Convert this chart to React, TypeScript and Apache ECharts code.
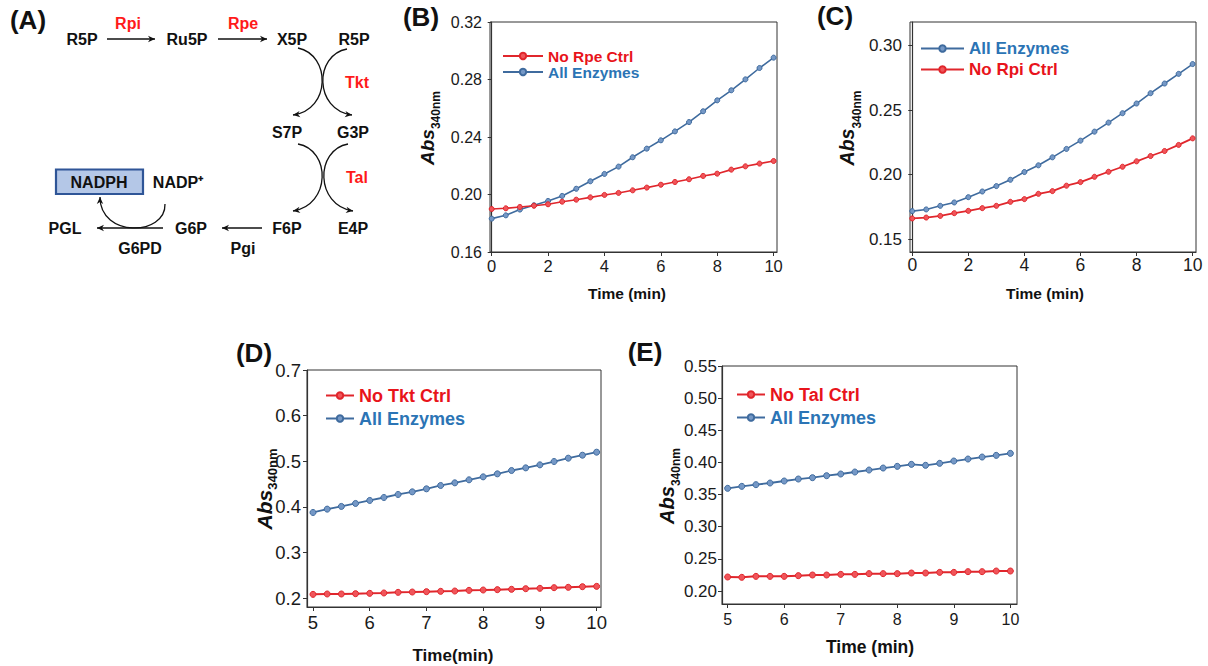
import React, { useEffect, useRef } from 'react';
import * as echarts from 'echarts';

// ---------- data ----------
const timeBC = [0, 0.5, 1, 1.5, 2, 2.5, 3, 3.5, 4, 4.5, 5, 5.5, 6, 6.5, 7, 7.5, 8, 8.5, 9, 9.5, 10];
const timeDE = [5, 5.25, 5.5, 5.75, 6, 6.25, 6.5, 6.75, 7, 7.25, 7.5, 7.75, 8, 8.25, 8.5, 8.75, 9, 9.25, 9.5, 9.75, 10];

const bNoRpe = [0.1899, 0.1904, 0.1913, 0.1922, 0.1932, 0.195, 0.1964, 0.198, 0.1997, 0.2011, 0.2029, 0.2048, 0.2068, 0.2087, 0.2106, 0.2129, 0.2145, 0.2173, 0.2196, 0.2215, 0.2233];
const bAll = [0.1832, 0.1855, 0.1895, 0.1925, 0.1955, 0.199, 0.204, 0.2092, 0.2143, 0.2194, 0.2259, 0.2319, 0.2377, 0.2439, 0.2504, 0.2579, 0.2655, 0.2725, 0.2801, 0.288, 0.2952];

const cAll = [0.1718, 0.1731, 0.1759, 0.1785, 0.1826, 0.187, 0.1912, 0.1961, 0.2021, 0.2073, 0.2135, 0.22, 0.2264, 0.2334, 0.2404, 0.2477, 0.2552, 0.2632, 0.2707, 0.2782, 0.2858];
const cNoRpi = [0.1661, 0.1668, 0.1681, 0.1702, 0.172, 0.1741, 0.1759, 0.179, 0.1811, 0.1852, 0.1873, 0.1915, 0.1943, 0.1984, 0.2023, 0.2062, 0.2104, 0.2145, 0.2184, 0.2231, 0.2282];

const dNoTkt = [0.2087, 0.2095, 0.2095, 0.2102, 0.2109, 0.2117, 0.2131, 0.2138, 0.2146, 0.2153, 0.216, 0.2175, 0.2182, 0.219, 0.2197, 0.2211, 0.2219, 0.2233, 0.2241, 0.2255, 0.2262];
const dAll = [0.388, 0.3953, 0.4012, 0.4077, 0.4143, 0.4208, 0.4274, 0.4332, 0.4398, 0.4471, 0.4529, 0.4595, 0.466, 0.4726, 0.4799, 0.4857, 0.4923, 0.4996, 0.5069, 0.5134, 0.52];

const eNoTal = [0.2218, 0.2213, 0.2228, 0.2228, 0.2228, 0.2239, 0.2249, 0.2249, 0.2259, 0.2259, 0.227, 0.227, 0.227, 0.228, 0.228, 0.229, 0.229, 0.2301, 0.2301, 0.2311, 0.2311];
const eAll = [0.3597, 0.3628, 0.3654, 0.368, 0.3711, 0.3742, 0.3763, 0.3794, 0.382, 0.3851, 0.3882, 0.3913, 0.3939, 0.397, 0.3955, 0.3986, 0.4022, 0.4053, 0.4084, 0.411, 0.4141];

const xTicksBC = [0, 2, 4, 6, 8, 10];
const xTicksDE = [5, 6, 7, 8, 9, 10];
const yTicksB = [0.16, 0.2, 0.24, 0.28, 0.32];
const yTicksC = [0.15, 0.2, 0.25, 0.3];
const yTicksD = [0.2, 0.3, 0.4, 0.5, 0.6, 0.7];
const yTicksE = [0.2, 0.25, 0.3, 0.35, 0.4, 0.45, 0.5, 0.55];

// ---------- styles ----------
const FONT = '"Liberation Sans", Arial, sans-serif';
const RED = '#e0262c';
const RED_FILL = '#f0555a';
const BLUE = '#3f6b9e';
const BLUE_FILL = '#7598c6';
const RED_TXT = '#e8141b';
const BLUE_TXT = '#2b74b5';
const AXIS = '#333333';
const INK = '#111111';

function arrowHead(tx: number, ty: number, dx: number, dy: number, len = 7, hw = 3.2) {
  const L = Math.hypot(dx, dy);
  const ux = dx / L, uy = dy / L;
  const nx = -uy, ny = ux;
  return {
    type: 'polygon',
    shape: {
      points: [
        [tx, ty],
        [tx - len * ux + hw * nx, ty - len * uy + hw * ny],
        [tx - len * ux * 0.7, ty - len * uy * 0.7],
        [tx - len * ux - hw * nx, ty - len * uy - hw * ny],
      ],
    },
    style: { fill: INK },
    silent: true,
  };
}

function straightArrow(x1: number, y1: number, x2: number, y2: number) {
  return [
    { type: 'line', shape: { x1, y1, x2, y2 }, style: { stroke: INK, lineWidth: 1.3 }, silent: true },
    arrowHead(x2, y2, x2 - x1, y2 - y1),
  ];
}

function curveArrow(x1: number, y1: number, c1x: number, c1y: number, c2x: number, c2y: number, x2: number, y2: number) {
  return [
    {
      type: 'bezierCurve',
      shape: { x1, y1, cpx1: c1x, cpy1: c1y, cpx2: c2x, cpy2: c2y, x2, y2 },
      style: { stroke: INK, lineWidth: 1.3, fill: 'none' },
      silent: true,
    },
    arrowHead(x2, y2, x2 - c2x, y2 - c2y),
  ];
}

function label(text: string, x: number, y: number, color = INK, size = 16, weight = 'bold') {
  return {
    type: 'text',
    x,
    y,
    silent: true,
    style: {
      text,
      fill: color,
      font: `${weight} ${size}px ${FONT}`,
      align: 'center',
      verticalAlign: 'middle',
      textAlign: 'center',
      textVerticalAlign: 'middle',
    },
  };
}

// rotated y title "Abs" with subscript "340nm"; x = centre of the line box
function absTitle(x: number, y: number, size: number, drop: number) {
  const t = Math.round(size * 0.62);
  const H = 2 * (drop + (t + 2) / 2 - 0.35 * t + 0.35 * size);
  return {
    type: 'text',
    x,
    y,
    rotation: Math.PI / 2,
    silent: true,
    style: {
      text: '{a|Abs}{b|340nm}',
      align: 'center',
      verticalAlign: 'middle',
      rich: {
        a: { fontSize: size, fontWeight: 'bold', fontStyle: 'italic', fontFamily: FONT, fill: INK, lineHeight: H },
        b: { fontSize: t, fontWeight: 'bold', fontFamily: FONT, fill: INK, verticalAlign: 'bottom', lineHeight: t + 2 },
      },
    },
  };
}

type Panel = {
  grid: { left: number; top: number; width: number; height: number };
  xMin: number; xMax: number; xTicks: number[]; xFont: number; xMargin: number;
  yMin: number; yMax: number; yTicks: number[]; yFont: number; yMargin: number; yDec: number;
};

const panels: Panel[] = [
  { grid: { left: 490, top: 22, width: 287, height: 230 }, xMin: -0.06, xMax: 10.12, xTicks: xTicksBC, xFont: 16.5, xMargin: 5,
    yMin: 0.16, yMax: 0.32, yTicks: yTicksB, yFont: 16, yMargin: 8, yDec: 2 },
  { grid: { left: 910, top: 22, width: 286, height: 230 }, xMin: -0.08, xMax: 10.12, xTicks: xTicksBC, xFont: 17.5, xMargin: 4,
    yMin: 0.1401, yMax: 0.3184, yTicks: yTicksC, yFont: 17, yMargin: 8, yDec: 2 },
  { grid: { left: 307, top: 370, width: 294, height: 237 }, xMin: 4.894, xMax: 10.077, xTicks: xTicksDE, xFont: 18.5, xMargin: 6,
    yMin: 0.181, yMax: 0.7, yTicks: yTicksD, yFont: 18.5, yMargin: 6, yDec: 1 },
  { grid: { left: 722, top: 366, width: 295, height: 238 }, xMin: 4.9, xMax: 10.117, xTicks: xTicksDE, xFont: 16, xMargin: 7,
    yMin: 0.1798, yMax: 0.55, yTicks: yTicksE, yFont: 17, yMargin: 5, yDec: 2 },
];

function mkSeries(name: string, xs: number[], ys: number[], idx: number, color: string, fill: string, lw: number, size: number) {
  return {
    type: 'line',
    name,
    xAxisIndex: idx,
    yAxisIndex: idx,
    data: xs.map((x, i) => [x, ys[i]]),
    symbol: 'circle',
    symbolSize: size,
    showSymbol: true,
    lineStyle: { color, width: lw },
    itemStyle: { color: fill, borderColor: color, borderWidth: 1 },
    emphasis: { disabled: true },
    z: color === RED ? 3 : 2,
  };
}

function mkLegend(left: number, top: number, lh: number, gap: number, fs: number, iw: number, items: { name: string; color: string }[]) {
  return {
    left,
    top,
    orient: 'vertical',
    padding: 0,
    itemGap: gap,
    itemWidth: iw,
    itemHeight: 8,
    selectedMode: false,
    data: items.map((it) => ({ name: it.name, textStyle: { color: it.color } })),
    textStyle: { fontSize: fs, fontWeight: 'bold', fontFamily: FONT, lineHeight: lh },
  };
}

export default function App() {
  const ref = useRef<HTMLDivElement>(null);

  useEffect(() => {
    if (!ref.current) return;
    const chart = echarts.init(ref.current, undefined, { renderer: 'svg' });

    const grids = panels.map((p) => ({
      ...p.grid,
      show: true,
      borderColor: AXIS,
      borderWidth: 1,
      backgroundColor: 'transparent',
      containLabel: false,
    }));

    const xAxes = panels.map((p, i) => ({
      type: 'value',
      gridIndex: i,
      min: p.xMin,
      max: p.xMax,
      splitLine: { show: false },
      axisLine: { show: true, lineStyle: { color: AXIS, width: 1.2 } },
      axisTick: { show: true, inside: false, length: 4, lineStyle: { color: AXIS }, customValues: p.xTicks },
      axisLabel: {
        customValues: p.xTicks,
        fontSize: p.xFont,
        fontFamily: FONT,
        color: '#1a1a1a',
        margin: p.xMargin,
        formatter: (v: number) => String(Math.round(v)),
      },
    }));

    const yAxes = panels.map((p, i) => ({
      type: 'value',
      gridIndex: i,
      min: p.yMin,
      max: p.yMax,
      splitLine: { show: false },
      axisLine: { show: true, lineStyle: { color: AXIS, width: 1.2 } },
      axisTick: { show: true, inside: false, length: 4, lineStyle: { color: AXIS }, customValues: p.yTicks },
      axisLabel: {
        customValues: p.yTicks,
        fontSize: p.yFont,
        fontFamily: FONT,
        color: '#1a1a1a',
        margin: p.yMargin,
        formatter: (v: number) => v.toFixed(p.yDec),
      },
    }));

    const series = [
      mkSeries('No Rpe Ctrl', timeBC, bNoRpe, 0, RED, RED_FILL, 1.6, 5),
      mkSeries('All Enzymes', timeBC, bAll, 0, BLUE, BLUE_FILL, 1.6, 5),
      mkSeries('All Enzymes', timeBC, cAll, 1, BLUE, BLUE_FILL, 1.6, 5),
      mkSeries('No Rpi Ctrl', timeBC, cNoRpi, 1, RED, RED_FILL, 1.8, 5),
      mkSeries('No Tkt Ctrl', timeDE, dNoTkt, 2, RED, RED_FILL, 2, 6),
      mkSeries('All Enzymes', timeDE, dAll, 2, BLUE, BLUE_FILL, 1.8, 6),
      mkSeries('No Tal Ctrl', timeDE, eNoTal, 3, RED, RED_FILL, 2, 6),
      mkSeries('All Enzymes', timeDE, eAll, 3, BLUE, BLUE_FILL, 1.8, 6),
    ];

    const legends = [
      mkLegend(502, 48, 15, 0, 15.5, 40, [{ name: 'No Rpe Ctrl', color: RED_TXT }, { name: 'All Enzymes', color: BLUE_TXT }]),
      mkLegend(920, 38, 21, 0, 17, 43, [{ name: 'All Enzymes', color: BLUE_TXT }, { name: 'No Rpi Ctrl', color: RED_TXT }]),
      mkLegend(325, 384, 23, 0, 18, 28, [{ name: 'No Tkt Ctrl', color: RED_TXT }, { name: 'All Enzymes', color: BLUE_TXT }]),
      mkLegend(736, 383, 23, 0, 18, 28, [{ name: 'No Tal Ctrl', color: RED_TXT }, { name: 'All Enzymes', color: BLUE_TXT }]),
    ];

    const diagram: any[] = [
      label('R5P', 82, 39),
      label('Rpi', 128, 23, '#ff1a1a'),
      ...straightArrow(107, 39, 155, 39),
      label('Ru5P', 187, 39),
      label('Rpe', 243, 23, '#ff1a1a'),
      ...straightArrow(218, 39, 267, 39),
      label('X5P', 292, 39),
      label('R5P', 354, 39),
      ...curveArrow(298, 48, 331, 55, 331, 110, 293, 115),
      ...curveArrow(347, 49, 314, 55, 314, 110, 352, 115),
      label('Tkt', 357, 82, '#ff1a1a'),
      label('S7P', 287, 132),
      label('G3P', 353, 132),
      ...curveArrow(298, 144, 331, 150, 331, 205, 293, 211),
      ...curveArrow(348, 144, 315, 150, 315, 205, 353, 211),
      label('Tal', 357, 177, '#ff1a1a'),
      label('F6P', 287, 228),
      label('E4P', 353, 228),
      ...straightArrow(262, 228, 222, 228),
      label('Pgi', 243, 248),
      label('G6P', 191, 228),
      ...straightArrow(163, 228, 97, 228),
      label('PGL', 65, 228),
      label('G6PD', 140, 248),
      {
        type: 'rect',
        shape: { x: 56, y: 169.5, width: 87, height: 24.5 },
        style: { fill: '#b4c7e7', stroke: '#2f5597', lineWidth: 2.2 },
        silent: true,
      },
      label('NADPH', 99, 182),
      label('NADP⁺', 178, 182),
      ...curveArrow(165, 204, 166, 236, 100, 238, 100, 197),
    ];

    const panelLabels = [
      label('(A)', 28, 20, INK, 26),
      label('(B)', 421, 17, INK, 26),
      label('(C)', 835, 16, INK, 26),
      label('(D)', 254, 353, INK, 26),
      label('(E)', 645, 352, INK, 26),
    ];

    const titles = [
      absTitle(427, 128, 19, 6),
      absTitle(847, 128, 19.5, 6),
      absTitle(264, 489, 21, 5),
      absTitle(667, 486, 20, 5),
      label('Time (min)', 627, 293, INK, 15.5),
      label('Time (min)', 1045, 293, INK, 15.5),
      label('Time(min)', 453, 655, INK, 17),
      label('Time (min)', 870, 647, INK, 17.5),
    ];

    chart.setOption({
      animation: false,
      backgroundColor: '#ffffff',
      grid: grids,
      xAxis: xAxes,
      yAxis: yAxes,
      legend: legends,
      series,
      graphic: [...diagram, ...panelLabels, ...titles],
    });

    return () => chart.dispose();
  }, []);

  return (
    <div
      ref={ref}
      style={{ position: 'fixed', left: 0, top: 0, width: 1208, height: 666, background: '#fff' }}
    />
  );
}
